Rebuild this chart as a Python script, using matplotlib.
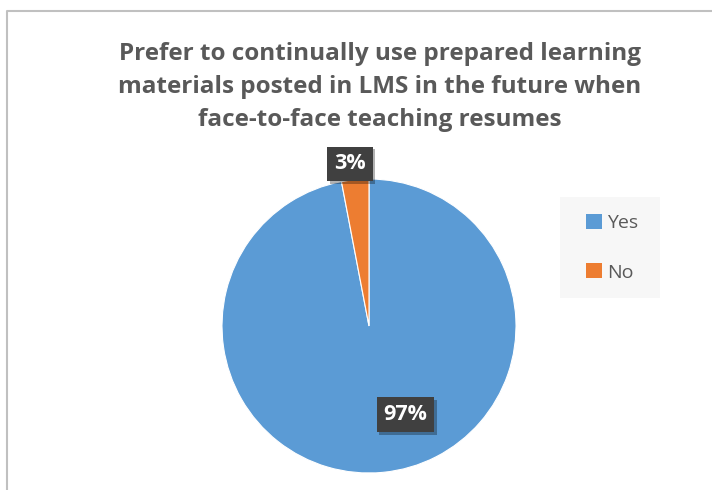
import matplotlib
matplotlib.use("Agg")
import matplotlib.pyplot as plt
import matplotlib.patheffects as pe
from matplotlib.lines import Line2D
from matplotlib.patches import Patch, Rectangle
import numpy as np

title = ("Prefer to continually use prepared learning\n"
         "materials posted in LMS in the future when\n"
         "face-to-face teaching resumes")
labels = ["Yes", "No"]
shares = [97, 3]
colors = ["#5B9BD5", "#ED7D31"]

plt.rcParams['font.family'] = ['Open Sans', 'DejaVu Sans']

W, H = 712, 490
fig = plt.figure(figsize=(W / 100, H / 100), dpi=100)
fig.patch.set_facecolor("white")

# chart frame (left + top edges only are visible)
fig.add_artist(Line2D([7 / W, 7 / W, 1.0], [0.0, 1 - 11 / H, 1 - 11 / H],
                      transform=fig.transFigure, color="#c0c0c0", lw=1.5))

fig.text(380 / W, 1 - 87 / H, title, ha="center", va="center",
         fontsize=17.5, fontweight="bold", color="#595959", linespacing=1.5)

# pie axes: centre (369, 326) px, radius 147 px
r = 147
ax = fig.add_axes([(369 - r) / W, (H - 326 - r) / H, 2 * r / W, 2 * r / H])
wedges, _ = ax.pie(shares, colors=colors, startangle=90, counterclock=False,
                   radius=1.0, wedgeprops=dict(edgecolor="white", linewidth=0.8))
ax.set_xlim(-1, 1)
ax.set_ylim(-1, 1)
ax.set_aspect("equal")
ax.axis("off")

# data labels, placed from each wedge's middle angle
place = [(0.65, 17.0), (1.11, 1.3)]  # (radius, angle tweak in degrees)
for w, val, (rad, tweak) in zip(wedges, shares, place):
    mid = np.deg2rad((w.theta1 + w.theta2) / 2 + tweak)
    x, y = rad * np.cos(mid), rad * np.sin(mid)
    t = ax.text(x, y, f"{val}%", ha="center", va="center", fontsize=15.5,
                fontweight="bold", color="white",
                bbox=dict(boxstyle="square,pad=0.32", facecolor="#404040", edgecolor="none"))
    t.get_bbox_patch().set_path_effects(
        [pe.SimplePatchShadow(offset=(2, -2), shadow_rgbFace="black", alpha=0.3), pe.Normal()])

# legend background box
fig.add_artist(Rectangle((560 / W, 1 - 298 / H), 100 / W, 101 / H,
                         transform=fig.transFigure, facecolor="#f7f7f7",
                         edgecolor="none", zorder=0))

handles = [Patch(facecolor=c, edgecolor="none") for c in colors]
leg = fig.legend(handles, labels, loc="upper left",
                 bbox_to_anchor=(586 / W, 1 - 214 / H),
                 frameon=False, fontsize=14, labelcolor="#595959",
                 handlelength=0.8, handleheight=0.8, handletextpad=0.3,
                 labelspacing=1.6, borderpad=0.0, borderaxespad=0.0)

fig.savefig("out.png", dpi=100)
